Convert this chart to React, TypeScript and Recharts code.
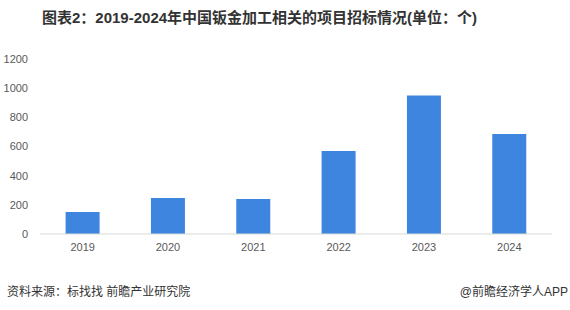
import { Bar, BarChart, XAxis, YAxis } from "recharts";

const years = ["2019", "2020", "2021", "2022", "2023", "2024"];
const bids = [151, 247, 240, 569, 949, 686];
const yTicks = [0, 200, 400, 600, 800, 1000, 1200];

const data = years.map((year, i) => ({ year, count: bids[i] }));

const font = '"Liberation Sans", "Noto Sans CJK SC", sans-serif';

export default function App() {
  return (
    <div
      style={{
        position: "absolute",
        left: 0,
        top: 0,
        width: 570,
        height: 310,
        background: "#fff",
        fontFamily: font,
      }}
    >
      <div
        style={{
          position: "absolute",
          left: 42,
          top: 6,
          fontSize: 15,
          fontWeight: "bold",
          color: "#333",
          whiteSpace: "nowrap",
        }}
      >
        图表2：2019-2024年中国钣金加工相关的项目招标情况(单位：个)
      </div>
      <div style={{ position: "absolute", left: 0, top: 0 }}>
        <BarChart
          width={570}
          height={265}
          data={data}
          margin={{ top: 59, right: 18, left: 0, bottom: 0 }}
          barCategoryGap="30%"
        >
          <XAxis
            dataKey="year"
            height={31}
            tickSize={0}
            tickMargin={9}
            axisLine={{ stroke: "#d9d9d9" }}
            tick={{ fontSize: 11, fill: "#595959", fontFamily: font }}
          />
          <YAxis
            width={40}
            domain={[0, 1200]}
            ticks={yTicks}
            tickSize={0}
            tickMargin={12}
            axisLine={false}
            tick={{ fontSize: 11, fill: "#595959", fontFamily: font }}
          />
          <Bar dataKey="count" fill="#3d85de" isAnimationActive={false} />
        </BarChart>
      </div>
      <div
        style={{
          position: "absolute",
          left: 7,
          top: 282,
          fontSize: 12,
          color: "#333",
          whiteSpace: "nowrap",
        }}
      >
        资料来源：标找找 前瞻产业研究院
      </div>
      <div
        style={{
          position: "absolute",
          right: 2,
          top: 282,
          fontSize: 12,
          color: "#333",
          whiteSpace: "nowrap",
        }}
      >
        @前瞻经济学人APP
      </div>
    </div>
  );
}
